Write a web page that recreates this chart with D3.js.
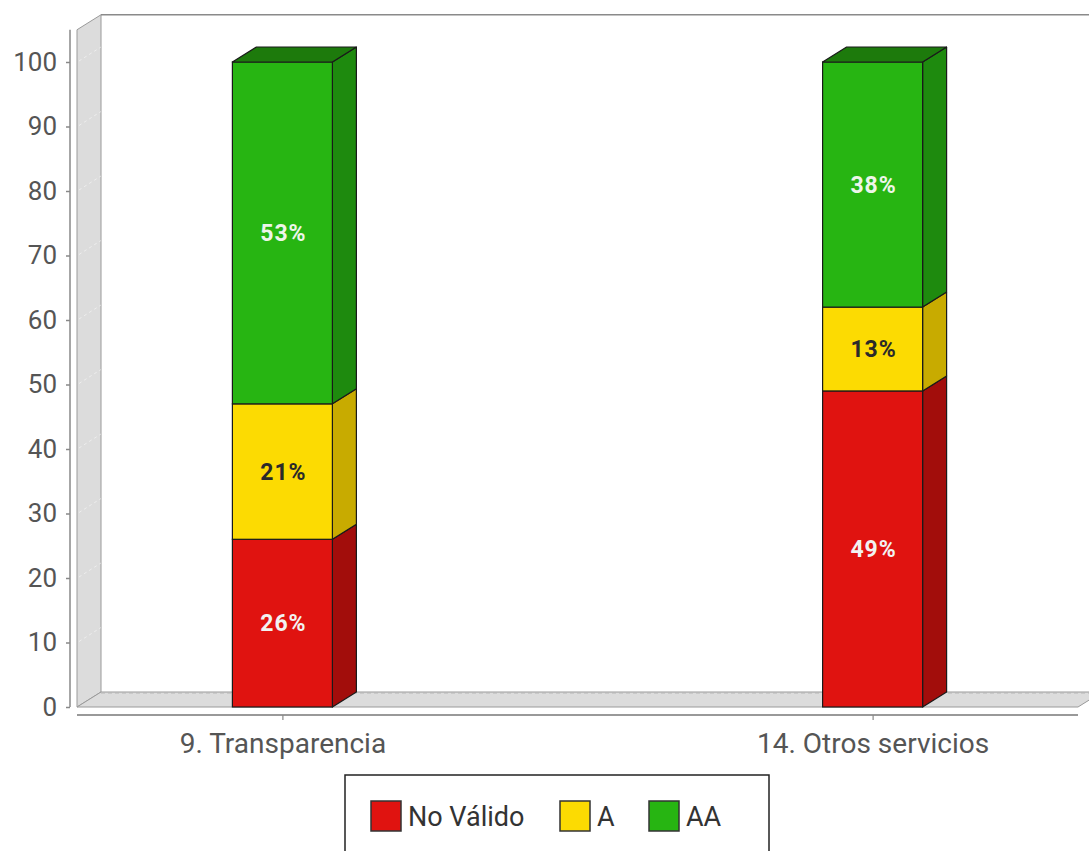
<!DOCTYPE html>
<html><head><meta charset="utf-8">
<script src="https://cdn.jsdelivr.net/npm/d3@7"></script>
<style>
html,body{margin:0;padding:0;background:#fff;}
svg{display:block;font-family:Roboto,"Noto Sans",sans-serif;}
</style></head>
<body>
<svg id="chart" width="1089" height="851"></svg>
<script>
const categories = ["9. Transparencia", "14. Otros servicios"];
const seriesNames = ["No Válido", "A", "AA"];
const noValido = [26, 49];
const nivelA = [21, 13];
const nivelAA = [53, 38];
const yTicks = [0, 10, 20, 30, 40, 50, 60, 70, 80, 90, 100];

const front = ["#e01310", "#fcdb02", "#27b512"];
const side  = ["#a20d0b", "#c8ab00", "#1e8a0e"];
const topC  = ["#a20d0b", "#c8ab00", "#1d7a0c"];
const labelColor = ["#f2f2f2", "#2a2a2a", "#eef5ea"];

const svg = d3.select("#chart");
const DX = 24, DY = -15;
const y = d3.scaleLinear().domain([0, 100]).range([707, 62]);
const x = d3.scalePoint().domain(categories).range([77, 1078]).padding(0.348);
const barW = 100;
const x0 = 77, x1 = 1078;
const yTop = y(105);

// left wall
svg.append("path")
  .attr("d", `M${x0},${yTop} L${x0+DX},${yTop+DY} L${x0+DX},${y(0)+DY} L${x0},${y(0)} Z`)
  .attr("fill", "#dcdcdc").attr("stroke", "#9a9a9a").attr("stroke-width", 1);
// floor
svg.append("path")
  .attr("d", `M${x0},${y(0)} L${x0+DX},${y(0)+DY} L${x1+DX},${y(0)+DY} L${x1},${y(0)} Z`)
  .attr("fill", "#dcdcdc").attr("stroke", "#9a9a9a").attr("stroke-width", 1);
// back wall top line
svg.append("line").attr("x1", x0+DX).attr("x2", x1+DX).attr("y1", yTop+DY).attr("y2", yTop+DY)
  .attr("stroke", "#8a8a8a").attr("stroke-width", 1.5);
// faint wall grid
svg.append("g").selectAll("line").data(yTicks.slice(1)).join("line")
  .attr("x1", x0+2).attr("x2", x0+DX).attr("y1", d => y(d)-1).attr("y2", d => y(d)+DY)
  .attr("stroke", "#fff").attr("stroke-width", 1).attr("stroke-dasharray", "3,3").attr("opacity", 0.5);
// floor back dashed line
svg.append("line").attr("x1", x0+DX).attr("x2", x1+DX).attr("y1", y(0)+DY+1).attr("y2", y(0)+DY+1)
  .attr("stroke", "#b5b5b5").attr("stroke-width", 1.2).attr("stroke-dasharray", "4,3");

// y axis
const yAxis = svg.append("g").attr("transform", "translate(70,0)")
  .call(d3.axisLeft(y).tickValues(yTicks).tickSize(4).tickSizeOuter(0).tickPadding(9));
yAxis.select(".domain").remove();
yAxis.selectAll(".tick line").attr("stroke", "#888").attr("stroke-width", 1.5);
yAxis.selectAll(".tick text").attr("fill", "#555").attr("font-size", 26).attr("font-family", "Roboto");
svg.append("line").attr("x1", 70).attr("x2", 70).attr("y1", yTop).attr("y2", y(0))
  .attr("stroke", "#888").attr("stroke-width", 1.5);

// x axis
const xAxis = svg.append("g").attr("transform", "translate(0,715)")
  .call(d3.axisBottom(x).tickSize(5).tickSizeOuter(0).tickPadding(13));
xAxis.select(".domain").attr("d", `M${x0},0H${x1}`).attr("stroke", "#999").attr("stroke-width", 2);
xAxis.selectAll(".tick line").attr("stroke", "#888").attr("stroke-width", 1.2);
xAxis.selectAll(".tick text").attr("fill", "#555").attr("font-size", 28).attr("font-family", "Roboto");

// bars
const series = [noValido, nivelA, nivelAA];
const stacks = categories.map((c, i) => {
  let acc = 0;
  return series.map((s, k) => { const d = {cat: c, k, v: s[i], y0: acc, y1: acc + s[i]}; acc += s[i]; return d; });
});
const bars = svg.append("g");
stacks.forEach(stack => {
  const g = bars.append("g");
  const lx = x(stack[0].cat) - barW/2, rx = lx + barW;
  stack.forEach((d, idx) => {
    const t = y(d.y1), b = y(d.y0);
    g.append("path")
      .attr("d", `M${rx},${b} L${rx+DX},${b+DY} L${rx+DX},${t+DY} L${rx},${t} Z`)
      .attr("fill", side[d.k]).attr("stroke", "#1a1a1a").attr("stroke-width", 1.2).attr("stroke-linejoin", "round");
    g.append("rect").attr("x", lx).attr("y", t).attr("width", barW).attr("height", b - t)
      .attr("fill", front[d.k]).attr("stroke", "#1a1a1a").attr("stroke-width", 1.2);
    if (idx === stack.length - 1) {
      g.append("path")
        .attr("d", `M${lx},${t} L${lx+DX},${t+DY} L${rx+DX},${t+DY} L${rx},${t} Z`)
        .attr("fill", topC[d.k]).attr("stroke", "#1a1a1a").attr("stroke-width", 1.2).attr("stroke-linejoin", "round");
    }
  });
  stack.forEach(d => {
    g.append("text").attr("x", x(d.cat) + 1).attr("y", (y(d.y0) + y(d.y1))/2)
      .attr("dy", "0.36em").attr("text-anchor", "middle")
      .attr("font-size", 23).attr("font-weight", "bold").attr("letter-spacing", "1px")
      .attr("font-family", "Roboto").attr("fill", labelColor[d.k])
      .text(d.v + "%");
  });
});

// legend
const leg = svg.append("g");
leg.append("rect").attr("x", 345).attr("y", 775).attr("width", 424).attr("height", 100)
  .attr("fill", "#fff").attr("stroke", "#222").attr("stroke-width", 1.5);
const legX = [371, 560, 649];
seriesNames.forEach((n, k) => {
  leg.append("rect").attr("x", legX[k]).attr("y", 801).attr("width", 30).attr("height", 30)
    .attr("fill", front[k]).attr("stroke", "#333").attr("stroke-width", 1.5);
  leg.append("text").attr("x", legX[k] + 37).attr("y", 816).attr("dy", "0.36em")
    .attr("font-size", 27).attr("fill", "#333").attr("font-family", "Roboto").text(n);
});
</script>
</body></html>
